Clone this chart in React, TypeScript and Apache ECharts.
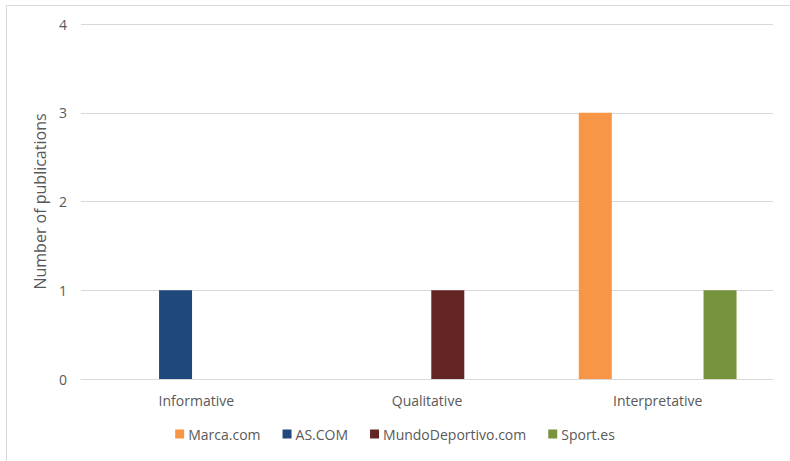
import React, { useEffect, useRef } from "react";
import * as echarts from "echarts";

const categories = ["Informative", "Qualitative", "Interpretative"];
const seriesNames = ["Marca.com", "AS.COM", "MundoDeportivo.com", "Sport.es"];
const marca = [0, 0, 3];
const asCom = [1, 0, 0];
const mundo = [0, 1, 0];
const sport = [0, 0, 1];
const colors = ["#F79646", "#1F497D", "#632523", "#77933C"];

export default function App() {
  const ref = useRef<HTMLDivElement>(null);
  useEffect(() => {
    if (!ref.current) return;
    const chart = echarts.init(ref.current, null, { renderer: "svg" });
    const values = [marca, asCom, mundo, sport];
    const font = "'Open Sans', 'Noto Sans', sans-serif";
    chart.setOption({
      animation: false,
      backgroundColor: "#ffffff",
      textStyle: { fontFamily: font },
      grid: { left: 81, right: 17, top: 24, bottom: 82, containLabel: false },
      legend: {
        bottom: 15,
        left: "center",
        itemWidth: 9,
        itemHeight: 9,
        itemGap: 22,
        icon: "rect",
        textStyle: { color: "#595959", fontSize: 14, fontFamily: font, padding: [0, 0, 0, -1] },
        data: seriesNames,
      },
      xAxis: {
        type: "category",
        data: categories,
        axisLine: { show: true, lineStyle: { color: "#d9d9d9", width: 1 } },
        axisTick: { show: false },
        axisLabel: { color: "#595959", fontSize: 14, margin: 14, fontFamily: font },
      },
      yAxis: {
        type: "value",
        min: 0,
        max: 4,
        interval: 1,
        name: "Number of publications",
        nameLocation: "middle",
        nameGap: 33,
        nameTextStyle: { color: "#595959", fontSize: 16, fontFamily: font },
        axisLine: { show: false },
        axisTick: { show: false },
        axisLabel: { color: "#595959", fontSize: 14, margin: 14, fontFamily: font },
        splitLine: { lineStyle: { color: "#d9d9d9", width: 1 } },
      },
      graphic: [
        { type: "line", shape: { x1: 6.5, y1: 5.5, x2: 790, y2: 5.5 }, style: { stroke: "#d9d9d9", lineWidth: 1 } },
        { type: "line", shape: { x1: 6.5, y1: 5.5, x2: 6.5, y2: 461 }, style: { stroke: "#d9d9d9", lineWidth: 1 } },
      ],
      series: seriesNames.map((name, i) => ({
        name,
        type: "bar",
        data: values[i],
        barWidth: 33,
        barGap: "26%",
        itemStyle: { color: colors[i] },
      })),
    });
    return () => chart.dispose();
  }, []);
  return (
    <div
      ref={ref}
      style={{ position: "fixed", left: 0, top: 0, width: 790, height: 461 }}
    />
  );
}
